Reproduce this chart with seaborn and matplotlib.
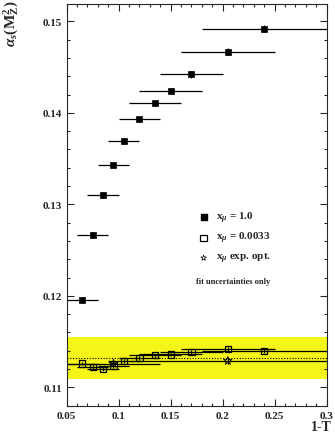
import matplotlib
matplotlib.use("Agg")
import matplotlib.pyplot as plt
import seaborn as sns
import numpy as np
import pandas as pd

# Data
x_vals = [0.065, 0.075, 0.085, 0.095, 0.105, 0.12, 0.135, 0.15, 0.17, 0.205, 0.24]
x_lo = [0.05, 0.06, 0.07, 0.08, 0.09, 0.10, 0.11, 0.12, 0.14, 0.16, 0.18]
x_hi = [0.08, 0.09, 0.10, 0.11, 0.12, 0.14, 0.16, 0.18, 0.20, 0.25, 0.31]
alpha_x1 = [0.1196, 0.1267, 0.1310, 0.1343, 0.1369, 0.1393, 0.1411, 0.1424, 0.1442, 0.1467, 0.1492]
alpha_x1_err = [0.0003, 0.0003, 0.0003, 0.0003, 0.0003, 0.0003, 0.0003, 0.0003, 0.0004, 0.0004, 0.0004]
alpha_x0033 = [0.1126, 0.1122, 0.1120, 0.1123, 0.1129, 0.1132, 0.1135, 0.1136, 0.1139, 0.1142, 0.1140]
alpha_x0033_err = [0.0002] * 11
star_x = [0.095, 0.205]
star_lo = [0.05, 0.11]
star_hi = [0.14, 0.31]
star_alpha = [0.1126, 0.1129]
star_err = [0.0003, 0.0003]
band_center = 0.1132
band_halfwidth = 0.0023

legend_labels = [r"x$_{\mu}$ = 1.0", r"x$_{\mu}$ = 0.0033", r"x$_{\mu}$ exp. opt."]
note_text = "fit uncertainties only"

sns.set_style("ticks")
plt.rcParams["font.family"] = ["Liberation Serif", "DejaVu Serif"]
plt.rcParams["mathtext.fontset"] = "custom"
plt.rcParams["mathtext.rm"] = "Liberation Serif:bold"
plt.rcParams["mathtext.it"] = "Liberation Serif:italic:bold"
plt.rcParams["mathtext.bf"] = "Liberation Serif:bold"

fig = plt.figure(figsize=(3.35, 4.39), dpi=100)
ax = fig.add_axes([0.199, 0.0736, 0.776, 0.915])

# yellow band
ax.axhspan(band_center - band_halfwidth, band_center + band_halfwidth, color="#f5f519", lw=0, zorder=0)
ax.axhline(band_center, color="black", ls=(0, (1, 1.5)), lw=0.8, zorder=1)

x = np.array(x_vals)
xl = x - np.array(x_lo)
xh = np.array(x_hi) - x

ax.errorbar(x, alpha_x1, xerr=[xl, xh], yerr=alpha_x1_err, fmt="none", ecolor="black", elinewidth=0.9, capsize=0, zorder=2)
ax.errorbar(x, alpha_x0033, xerr=[xl, xh], yerr=alpha_x0033_err, fmt="none", ecolor="black", elinewidth=0.9, capsize=0, zorder=2)
sx = np.array(star_x)
ax.errorbar(sx, star_alpha, xerr=[sx - np.array(star_lo), np.array(star_hi) - sx], yerr=star_err, fmt="none", ecolor="black", elinewidth=0.9, capsize=0, zorder=2)

df1 = pd.DataFrame({"x": x_vals, "y": alpha_x1})
df2 = pd.DataFrame({"x": x_vals, "y": alpha_x0033})
df3 = pd.DataFrame({"x": star_x, "y": star_alpha})
sns.scatterplot(data=df1, x="x", y="y", marker="s", s=20, color="black", edgecolor="black", linewidth=0.5, ax=ax, zorder=3)
sns.scatterplot(data=df2, x="x", y="y", marker="s", s=20, facecolor="none", edgecolor="black", linewidth=0.9, ax=ax, zorder=3)
sns.scatterplot(data=df3, x="x", y="y", marker="*", s=40, facecolor="none", edgecolor="black", linewidth=0.6, ax=ax, zorder=3)

# legend (manual)
lx = 0.1817
ly = [0.1286, 0.12635, 0.12415]
ax.scatter([lx], [ly[0]], marker="s", s=22, color="black", zorder=4)
ax.scatter([lx], [ly[1]], marker="s", s=22, facecolor="none", edgecolor="black", linewidth=0.9, zorder=4)
ax.scatter([lx], [ly[2]], marker="*", s=18, facecolor="none", edgecolor="black", linewidth=0.5, zorder=4)
for yy, lab in zip(ly, legend_labels):
    ax.text(0.1935, yy, lab, fontsize=8, fontweight="bold", va="center", ha="left")
ax.text(0.2105, 0.1216, note_text, fontsize=6, fontweight="bold", va="center", ha="center")

ax.set_xlim(0.05, 0.30)
ax.set_ylim(0.1082, 0.1519)
ax.set_xticks([0.05, 0.1, 0.15, 0.2, 0.25, 0.3])
ax.set_xticklabels(["0.05", "0.1", "0.15", "0.2", "0.25", "0.3"])
ax.set_yticks([0.11, 0.12, 0.13, 0.14, 0.15])
ax.set_yticklabels(["0.11", "0.12", "0.13", "0.14", "0.15"])
ax.set_xticks(np.arange(0.05, 0.3001, 0.01), minor=True)
ax.set_yticks(np.arange(0.108, 0.152, 0.002), minor=True)
ax.tick_params(which="both", direction="in", top=True, right=True, width=0.8, labelsize=8)
ax.tick_params(which="major", length=5)
ax.tick_params(which="minor", length=2.5)
for lab in ax.get_xticklabels() + ax.get_yticklabels():
    lab.set_fontweight("bold")
for sp in ax.spines.values():
    sp.set_linewidth(0.8)
ax.set_xlabel("")
ax.set_ylabel("")

fig.text(0.99, 0.012, "1-T", fontsize=10, fontweight="bold", ha="right", va="bottom")
fig.text(0.035, 0.998, r"$\alpha_s(\mathrm{M_Z^2})$", fontsize=11, rotation=90, ha="center", va="top")

fig.savefig("out.png", dpi=100)
